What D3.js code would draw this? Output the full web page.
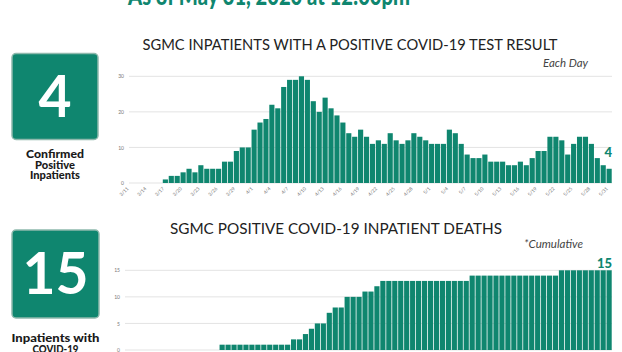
<!DOCTYPE html>
<html><head><meta charset="utf-8">
<script src="https://cdn.jsdelivr.net/npm/d3@7"></script>
<style>
html,body{margin:0;padding:0;background:#fff;overflow:hidden;}
svg{display:block;}
</style></head>
<body><svg id="c" width="622" height="352"></svg>
<script>
const dates = ["3/11","3/12","3/13","3/14","3/15","3/16","3/17","3/18","3/19","3/20","3/21","3/22","3/23","3/24","3/25","3/26","3/27","3/28","3/29","3/30","3/31",
"4/1","4/2","4/3","4/4","4/5","4/6","4/7","4/8","4/9","4/10","4/11","4/12","4/13","4/14","4/15","4/16","4/17","4/18","4/19","4/20","4/21","4/22","4/23","4/24","4/25","4/26","4/27","4/28","4/29","4/30",
"5/1","5/2","5/3","5/4","5/5","5/6","5/7","5/8","5/9","5/10","5/11","5/12","5/13","5/14","5/15","5/16","5/17","5/18","5/19","5/20","5/21","5/22","5/23","5/24","5/25","5/26","5/27","5/28","5/29","5/30","5/31"];
const inpatients = [0,0,0,0,0,0,1,2,2,3,4,3,5,4,4,4,6,6,9,10,10,15,17,18,22,21,27,29,29,30,29,23,20,24,21,19,17,14,13,15,13,11,12,11,14,12,11,12,14,13,12,11,11,11,15,14,11,8,7,7,8,6,6,6,5,5,6,5,7,9,9,13,13,12,8,11,13,13,11,7,5,4];
const deaths = [0,0,0,0,0,0,0,0,0,0,0,0,0,0,0,0,1,1,1,1,1,1,1,1,1,1,1,1,2,2,3,4,5,5,7,8,8,10,10,10,11,11,12,13,13,13,13,13,13,13,13,13,13,13,13,13,13,13,14,14,14,14,14,14,14,14,14,14,14,14,14,14,14,15,15,15,15,15,15,15,15,15];
const tickDates = dates.filter((d,i)=>i%3===0);
const inpTicks = [0,10,20,30];
const deathTicks = [0,5,10,15];
const headerText = "As of May 31, 2020 at 12:00pm";
const title1 = "SGMC INPATIENTS WITH A POSITIVE COVID-19 TEST RESULT";
const title2 = "SGMC POSITIVE COVID-19 INPATIENT DEATHS";
const note1 = "Each Day";
const note2 = "*Cumulative";
const stat1 = "4", stat2 = "15";
const label1 = ["Confirmed","Positive","Inpatients"];
const label1W = [58,40,50];
const label2 = ["Inpatients with","COVID-19"];
const label2W = [88,46];

const TEAL = "#0f866f";
const svg = d3.select("#c");
const FONT = "Lato, 'Open Sans', sans-serif";

svg.append("text").attr("x",269).attr("y",5).attr("text-anchor","middle")
  .attr("font-family",FONT).attr("font-weight",900).attr("font-size",27)
  .attr("fill",TEAL).attr("textLength",282).attr("lengthAdjust","spacingAndGlyphs").text(headerText);

function statBox(x,y,w,h,val,lines,widths,ly){
  svg.append("rect").attr("x",x).attr("y",y).attr("width",w).attr("height",h).attr("rx",4)
    .attr("fill",TEAL).attr("stroke","#8fb9ad").attr("stroke-width",1.5);
  svg.append("text").attr("x",x+w/2).attr("y",y+h/2+20).attr("text-anchor","middle")
    .attr("font-family",FONT).attr("font-weight",700).attr("font-size",57).attr("fill","#fff").text(val);
  lines.forEach((t,i)=>{
    svg.append("text").attr("x",x+w/2).attr("y",ly+i*10.5).attr("text-anchor","middle")
      .attr("font-family",FONT).attr("font-weight",900).attr("font-size",10.5).attr("fill","#1a1a1a")
      .attr("textLength",widths[i]).attr("lengthAdjust","spacingAndGlyphs").text(t);
  });
}
statBox(12,53.5,86,86,stat1,label1,label1W,158.3);
statBox(12,230,87,88,stat2,label2,label2W,342);

function barChart(cfg){
  const x = d3.scaleBand().domain(dates).range([cfg.x0,cfg.x1]).paddingInner(0.13).paddingOuter(0.05);
  const y = d3.scaleLinear().domain(cfg.ydom).range(cfg.yrange);
  const g = svg.append("g");
  g.selectAll("line.grid").data(cfg.ticks).join("line")
    .attr("x1",cfg.gx0).attr("x2",cfg.x1).attr("y1",d=>y(d)).attr("y2",d=>y(d))
    .attr("stroke","#e3e3e3").attr("stroke-width",1);
  const ya = g.append("g").attr("transform",`translate(${cfg.gx0-3},0)`)
    .call(d3.axisLeft(y).tickValues(cfg.ticks).tickSize(0).tickPadding(2));
  ya.select(".domain").remove();
  ya.selectAll("text").attr("font-family",FONT).attr("font-size",5).attr("fill","#777");
  g.selectAll("rect.bar").data(cfg.values).join("rect")
    .attr("x",(d,i)=>x(dates[i])).attr("width",x.bandwidth())
    .attr("y",d=>y(d)).attr("height",d=>y(0)-y(d)).attr("fill",TEAL);
  const xa = g.append("g").attr("transform",`translate(0,${y(0)})`)
    .call(d3.axisBottom(x).tickValues(tickDates).tickSize(0).tickPadding(0));
  xa.select(".domain").remove();
  xa.selectAll("text").attr("font-family",FONT).attr("font-size",4.8).attr("fill","#777")
    .attr("text-anchor","end").attr("dy",0).attr("transform","translate(-1,6) rotate(-45)");
  svg.append("text").attr("x",cfg.tx).attr("y",cfg.ty).attr("text-anchor","middle")
    .attr("font-family",FONT).attr("font-weight",400).attr("font-size",15).attr("fill","#222")
    .attr("textLength",cfg.tl).attr("lengthAdjust","spacingAndGlyphs").text(cfg.title);
  svg.append("text").attr("x",cfg.nx).attr("y",cfg.ny).attr("text-anchor","end")
    .attr("font-family",FONT).attr("font-style","italic").attr("font-size",10.5).attr("fill","#444")
    .attr("textLength",cfg.nw).attr("lengthAdjust","spacingAndGlyphs").text(cfg.note);
  const last = cfg.values.length-1;
  svg.append("text").attr("x",cfg.x1).attr("y",y(cfg.values[last])-cfg.lo)
    .attr("text-anchor","end").attr("font-family",FONT).attr("font-weight",900).attr("font-size",13)
    .attr("fill",TEAL).text(cfg.lastLabel);
}

barChart({values:inpatients, x0:127, x1:612, gx0:129, ydom:[0,30], yrange:[183,76.3], ticks:inpTicks,
  title:title1, tx:350, ty:49.5, tl:415, note:note1, nx:588, ny:67, nw:45, lo:12, lastLabel:stat1});
barChart({values:deaths, x0:124, x1:612, gx0:125, ydom:[0,15], yrange:[350,270.3], ticks:deathTicks,
  title:title2, tx:336, ty:234, tl:332, note:note2, nx:583, ny:247.5, nw:59, lo:2.5, lastLabel:stat2});
</script></body></html>
